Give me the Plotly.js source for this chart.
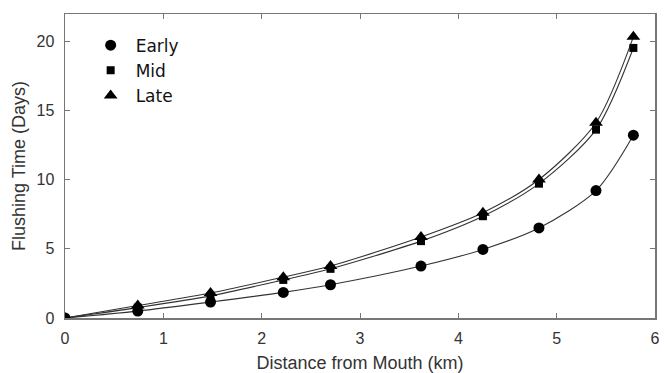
<!DOCTYPE html>
<html>
<head>
<meta charset="utf-8">
<script src="https://cdn.plot.ly/plotly-3.0.1.min.js"></script>
<style>html,body{margin:0;padding:0;background:#fff;}#chart{width:664px;height:373px;}</style>
</head>
<body>
<div id="chart"></div>
<script>
const distance = [0, 0.74, 1.48, 2.22, 2.7, 3.62, 4.25, 4.82, 5.4, 5.78];
const earlyDays = [0, 0.5, 1.15, 1.85, 2.4, 3.75, 4.95, 6.5, 9.2, 13.2];
const midDays = [0, 0.75, 1.6, 2.75, 3.55, 5.55, 7.35, 9.7, 13.6, 19.5];
const lateDays = [0, 0.9, 1.8, 2.95, 3.75, 5.85, 7.6, 10.0, 14.1, 20.3];
const seriesNames = ["Early", "Mid", "Late"];
const xTicks = [0, 1, 2, 3, 4, 5, 6];
const yTicks = [0, 5, 10, 15, 20];

const symbols = ["circle", "square", "triangle-up"];
const sizes = [11, 8, 12];
const ys = [earlyDays, midDays, lateDays];
const traces = [];
ys.forEach((y, i) => {
  traces.push({
    x: distance, y: y, mode: "lines", type: "scatter",
    line: {shape: "spline", smoothing: 0.8, color: "#333", width: 1.1},
    showlegend: false, hoverinfo: "skip"
  });
});
ys.forEach((y, i) => {
  traces.push({
    x: distance, y: y, mode: "markers", type: "scatter", name: seriesNames[i],
    marker: {symbol: symbols[i], size: sizes[i], color: "#000"}
  });
});

const axisCommon = {
  showline: true, mirror: "ticks", linecolor: "#777", linewidth: 1.5,
  ticks: "inside", ticklen: 5, tickcolor: "#777", showgrid: false, zeroline: false,
  tickfont: {family: "Liberation Sans, Arial, sans-serif", size: 16, color: "#333"}
};
const layout = {
  width: 664, height: 373,
  margin: {l: 65, r: 9, t: 14, b: 55},
  paper_bgcolor: "#fff", plot_bgcolor: "#fff",
  xaxis: Object.assign({}, axisCommon, {
    range: [0, 6], tickvals: xTicks, ticklabelstandoff: 5,
    title: {text: "Distance from Mouth (km)", standoff: 10,
      font: {family: "Liberation Sans, Arial, sans-serif", size: 18, color: "#333"}}
  }),
  yaxis: Object.assign({}, axisCommon, {
    range: [0, 21.95], tickvals: yTicks, ticklabelstandoff: 6,
    title: {text: "Flushing Time (Days)", standoff: 6,
      font: {family: "Liberation Sans, Arial, sans-serif", size: 18, color: "#333"}}
  }),
  legend: {x: 0.035, y: 0.955, xanchor: "left", yanchor: "top",
    bgcolor: "rgba(0,0,0,0)", borderwidth: 0, itemwidth: 40, tracegroupgap: 0,
    font: {family: "DejaVu Sans, sans-serif", size: 17, color: "#111"}},
  showlegend: true
};
Plotly.newPlot("chart", traces, layout, {displayModeBar: false, staticPlot: true});
</script>
</body>
</html>
